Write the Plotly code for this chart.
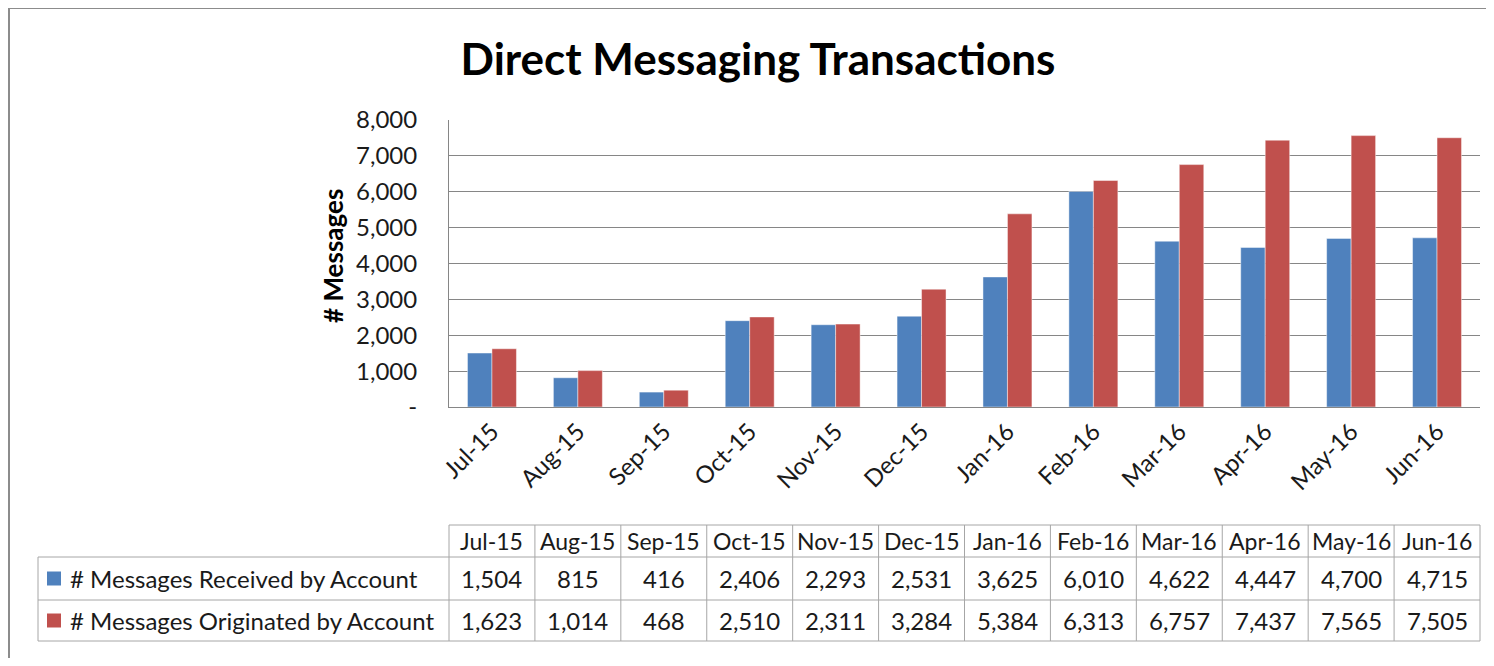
import plotly.graph_objects as go

months = ["Jul-15", "Aug-15", "Sep-15", "Oct-15", "Nov-15", "Dec-15",
          "Jan-16", "Feb-16", "Mar-16", "Apr-16", "May-16", "Jun-16"]
received = [1504, 815, 416, 2406, 2293, 2531, 3625, 6010, 4622, 4447, 4700, 4715]
originated = [1623, 1014, 468, 2510, 2311, 3284, 5384, 6313, 6757, 7437, 7565, 7505]
series_names = ["# Messages Received by Account", "# Messages Originated by Account"]
colors = ["#4F81BD", "#C0504D"]
ytick_vals = [0, 1000, 2000, 3000, 4000, 5000, 6000, 7000, 8000]
ytick_text = ["-", "1,000", "2,000", "3,000", "4,000", "5,000", "6,000", "7,000", "8,000"]

# the page body adds an 8px margin all round, so keep the figure inside the window
OFF = 8
W, H = 1494 - 2 * OFF, 666 - 2 * OFF
FONT = "Lato"
TXT = "#1a1a1a"
LINE = "#A6A6A6"


def px(x):
    # screen pixel -> paper x
    return (x - OFF) / W


def py(y):
    # screen pixel (from top) -> paper y
    return 1 - (y - OFF) / H


fig = go.Figure()
for name, vals, c in zip(series_names, [received, originated], colors):
    fig.add_trace(go.Bar(x=months, y=vals, name=name, marker_color=c,
                         marker_line=dict(color="rgba(255,255,255,0.45)", width=1),
                         showlegend=False))

# ---- data table under the chart (drawn with shapes + annotations)
plot_l, plot_r = 449, 1480
tab_l = 38
row_y = [525, 557, 600, 641]
col_w = (plot_r - plot_l) / len(months)

shapes = []
line = dict(color=LINE, width=1)
# horizontal rules
shapes.append(dict(type="line", xref="paper", yref="paper", x0=px(plot_l), x1=px(plot_r),
                   y0=py(row_y[0]), y1=py(row_y[0]), line=line))
for yy in row_y[1:]:
    shapes.append(dict(type="line", xref="paper", yref="paper", x0=px(tab_l), x1=px(plot_r),
                       y0=py(yy), y1=py(yy), line=line))
# vertical rules
shapes.append(dict(type="line", xref="paper", yref="paper", x0=px(tab_l), x1=px(tab_l),
                   y0=py(row_y[1]), y1=py(row_y[3]), line=line))
for i in range(len(months) + 1):
    xx = plot_l + i * col_w
    shapes.append(dict(type="line", xref="paper", yref="paper", x0=px(xx), x1=px(xx),
                       y0=py(row_y[0]), y1=py(row_y[3]), line=line))
# legend keys
for r, c in enumerate(colors):
    yc = (row_y[r + 1] + row_y[r + 2]) / 2
    shapes.append(dict(type="rect", xref="paper", yref="paper", x0=px(47), x1=px(61),
                       y0=py(yc + 7), y1=py(yc - 7), fillcolor=c, line=dict(width=0)))
# outer chart frame: only top and left edges are in view
frame = dict(color="#8C8C8C", width=2)
shapes.append(dict(type="line", xref="paper", yref="paper", x0=px(9), x1=1.0,
                   y0=py(8), y1=py(8), line=frame))
shapes.append(dict(type="line", xref="paper", yref="paper", x0=px(9), x1=px(9),
                   y0=py(8), y1=0.0, line=frame))

annotations = []
hfont = dict(family=FONT, size=23, color=TXT)
tfont = dict(family=FONT, size=24, color=TXT)
for m in months:
    annotations.append(dict(x=m, xref="x", y=py((row_y[0] + row_y[1]) / 2), yref="paper",
                            text=m, showarrow=False, font=hfont, xanchor="center", yanchor="middle"))
for r, (name, vals) in enumerate(zip(series_names, [received, originated])):
    yc = py((row_y[r + 1] + row_y[r + 2]) / 2)
    annotations.append(dict(x=px(68), xref="paper", y=yc, yref="paper", text=name,
                            showarrow=False, font=tfont, xanchor="left", yanchor="middle"))
    for m, v in zip(months, vals):
        annotations.append(dict(x=m, xref="x", y=yc, yref="paper", text=f"{v:,}",
                                showarrow=False, font=tfont, xanchor="center", yanchor="middle"))

# y axis title
annotations.append(dict(x=px(333), xref="paper", y=py(256), yref="paper",
                        text="<b># Messages</b>", textangle=-90, showarrow=False,
                        font=dict(family=FONT, size=26, color="black"),
                        xanchor="center", yanchor="middle"))

fig.update_layout(
    width=W, height=H,
    margin=dict(l=0, r=0, t=0, b=0),
    paper_bgcolor="white", plot_bgcolor="white",
    barmode="group", bargap=0.43, bargroupgap=0,
    font=dict(family=FONT, color=TXT),
    title=dict(text="<b>Direct Messaging Transactions</b>", x=px(758), xanchor="center",
               y=py(60), yanchor="middle", font=dict(size=44, color="black")),
    xaxis=dict(domain=[px(plot_l), px(plot_r)], tickangle=-45, showline=True,
               linecolor="#868686", linewidth=1, showgrid=False, automargin=False,
               tickfont=dict(size=24, color=TXT), ticks=""),
    yaxis=dict(domain=[py(407), py(120)], range=[0, 8000], automargin=False,
               tickvals=ytick_vals, ticktext=ytick_text, showline=True,
               linecolor="#868686", linewidth=1, gridcolor="#868686", gridwidth=1,
               tickfont=dict(size=24, color=TXT), ticklabelstandoff=26),
    shapes=shapes,
    annotations=annotations,
)

fig.write_html("out.html")
